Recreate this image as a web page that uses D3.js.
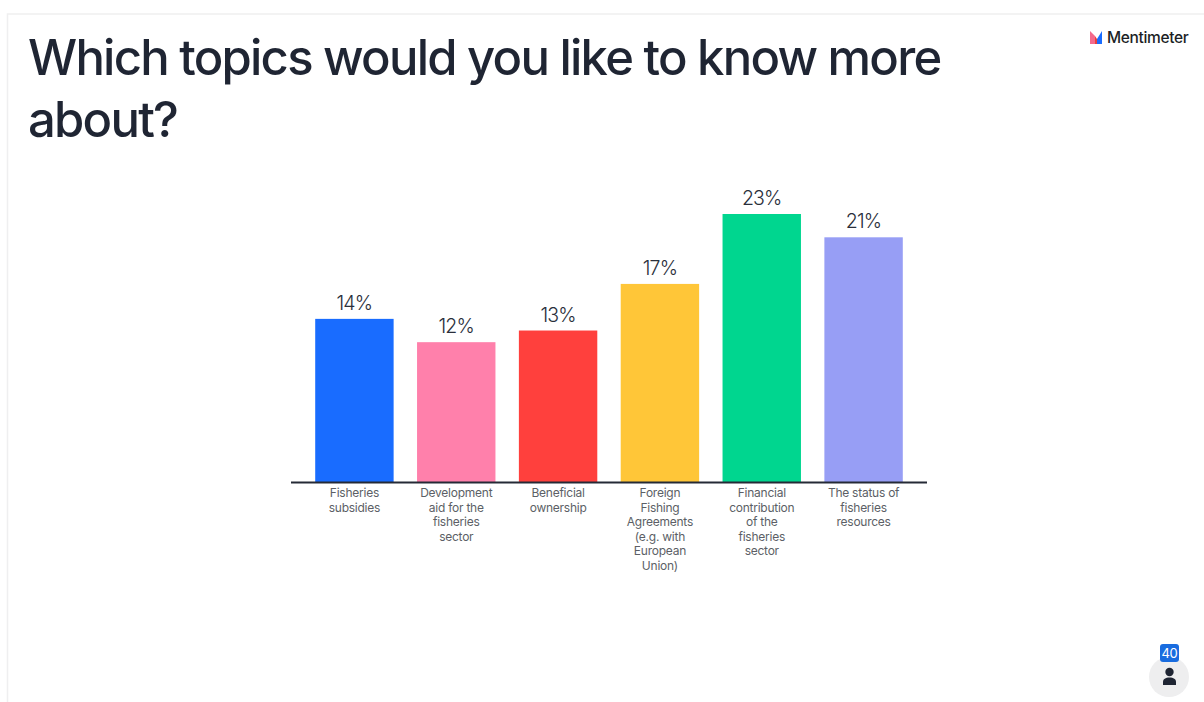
<!DOCTYPE html>
<html>
<head>
<meta charset="utf-8">
<script src="https://cdn.jsdelivr.net/npm/d3@7"></script>
<style>
html,body{margin:0;padding:0;background:#fff;overflow:hidden}
svg{display:block}
text{font-family:Inter,"Noto Sans",sans-serif}
</style>
</head>
<body>
<svg id="slide" width="1204" height="702"></svg>
<script>
const categories = [
  ["Fisheries","subsidies"],
  ["Development","aid for the","fisheries","sector"],
  ["Beneficial","ownership"],
  ["Foreign","Fishing","Agreements","(e.g. with","European","Union)"],
  ["Financial","contribution","of the","fisheries","sector"],
  ["The status of","fisheries","resources"]
];
const shares = [14, 12, 13, 17, 23, 21];
const barColors = ["#196cff","#ff80ab","#ff403d","#ffc638","#00d68f","#979ef5"];
const titleLines = ["Which topics would you like to know more","about?"];
const respondents = 40;
const ink = "#1f2533";

const svg = d3.select("#slide");

// Slide frame: faint top and left edges
svg.append("rect").attr("width",1204).attr("height",702).attr("fill","#fff");
svg.append("path").attr("d","M1204 14H7.5V702").attr("fill","none").attr("stroke","#efeff0").attr("stroke-width",1.5);

// Heading
svg.append("g").selectAll("text").data(titleLines).join("text")
  .attr("x",28)
  .attr("y",(d,i)=>75+i*62)
  .attr("font-size",49)
  .attr("font-weight",500)
  .attr("letter-spacing",-1.76)
  .attr("fill",ink)
  .text(d=>d);

// Scales
const x = d3.scaleBand().domain(d3.range(shares.length)).range([303.5,914.5]).paddingInner(0.23).paddingOuter(0.115);
const y = d3.scaleLinear().domain([0,23]).range([482,214]);

// Bars
svg.append("g").selectAll("rect").data(shares).join("rect")
  .attr("x",(d,i)=>x(i))
  .attr("y",d=>y(d))
  .attr("width",x.bandwidth())
  .attr("height",d=>y(0)-y(d))
  .attr("fill",(d,i)=>barColors[i]);

// Baseline
svg.append("line").attr("x1",291).attr("x2",927).attr("y1",482.5).attr("y2",482.5)
  .attr("stroke","#252a36").attr("stroke-width",2);

// Value labels
svg.append("g").selectAll("text").data(shares).join("text")
  .attr("x",(d,i)=>x(i)+x.bandwidth()/2)
  .attr("y",d=>y(d)-9)
  .attr("text-anchor","middle")
  .attr("font-size",19.5)
  .attr("font-weight",300)
  .attr("letter-spacing",-0.8)
  .attr("fill","#2a2f3b")
  .text(d=>d+"%");

// Category labels, one text per wrapped line
const labels = svg.append("g").selectAll("g").data(categories).join("g")
  .attr("transform",(d,i)=>`translate(${x(i)+x.bandwidth()/2},0)`);
labels.selectAll("text").data(d=>d).join("text")
  .attr("y",(d,i)=>497+i*14.6)
  .attr("text-anchor","middle")
  .attr("font-size",12)
  .attr("letter-spacing",-0.25)
  .attr("fill","#5c5f66")
  .text(d=>d);

// Brand mark
const mark = svg.append("g").attr("transform","translate(1090,31)");
mark.append("path").attr("d","M0 13V0L5 5V13Z").attr("fill","#f46a8c");
mark.append("path").attr("d","M5 13V5L7 8V13Z").attr("fill","#e8403f");
mark.append("path").attr("d","M7 13V8L12 0V13Z").attr("fill","#196cff");
svg.append("text").attr("x",1107).attr("y",43).attr("font-size",15.5).attr("font-weight",500)
  .attr("letter-spacing",-0.35).attr("fill","#1c1f26").text("Mentimeter");

// Respondent counter
svg.append("circle").attr("cx",1169).attr("cy",677).attr("r",20).attr("fill","#eeeeef");
svg.append("rect").attr("x",1160).attr("y",644).attr("width",19).attr("height",18).attr("rx",3).attr("fill","#196cdf");
svg.append("text").attr("x",1169.5).attr("y",658).attr("text-anchor","middle").attr("font-size",13)
  .attr("letter-spacing",-0.2).attr("fill","#fff").text(respondents);
svg.append("circle").attr("cx",1169.5).attr("cy",672).attr("r",4.2).attr("fill",ink);
svg.append("path").attr("d","M1163 685V682C1163 679 1165.500 677.500 1169.500 677.500C1173.500 677.500 1176 679 1176 682V685Z").attr("fill",ink);
</script>
</body>
</html>
